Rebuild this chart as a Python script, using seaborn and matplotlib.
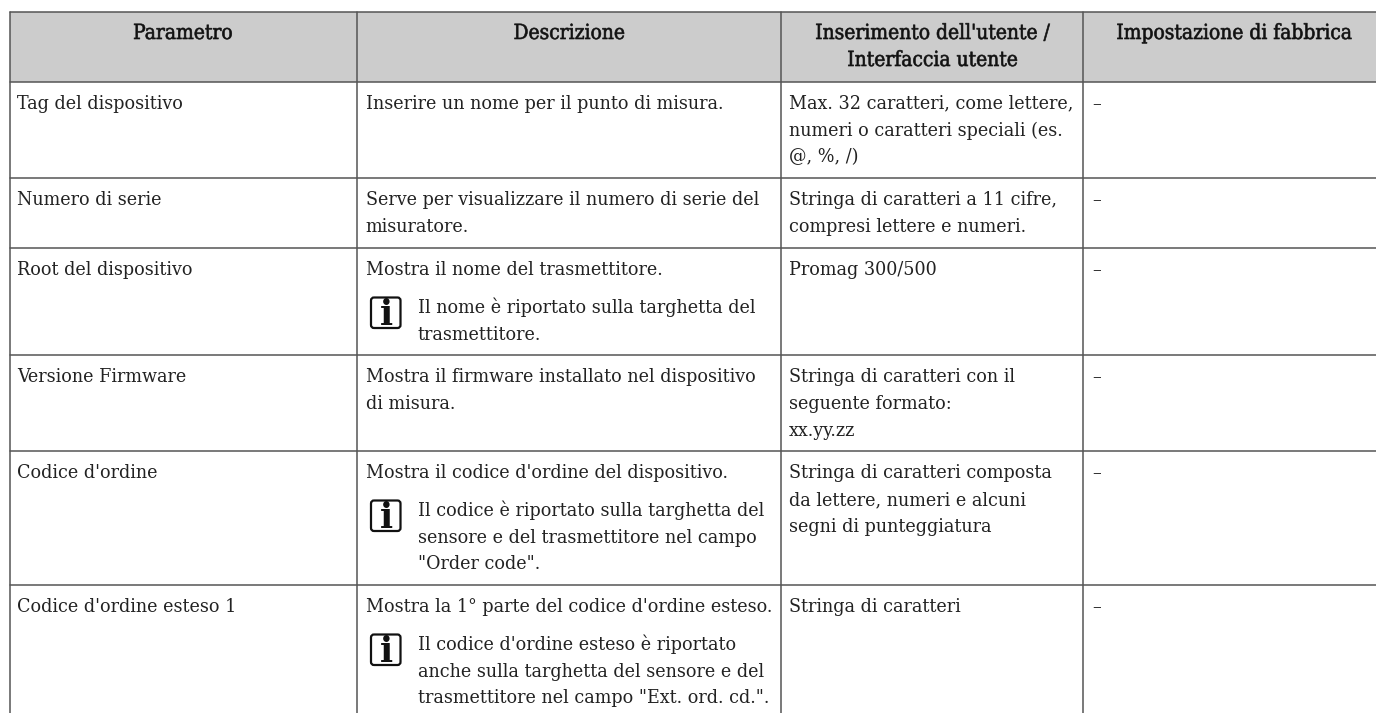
import pandas as pd
import matplotlib
matplotlib.use('Agg')
import matplotlib.pyplot as plt
import matplotlib.patheffects as pe
from matplotlib.patches import FancyBboxPatch
import seaborn as sns

# Table contents
headers = ["Parametro", "Descrizione", ["Inserimento dell'utente /", "Interfaccia utente"], "Impostazione di fabbrica"]
parametri = ["Tag del dispositivo", "Numero di serie", "Root del dispositivo",
             "Versione Firmware", "Codice d'ordine", "Codice d'ordine esteso 1"]
descrizioni = [
    ["Inserire un nome per il punto di misura."],
    ["Serve per visualizzare il numero di serie del", "misuratore."],
    ["Mostra il nome del trasmettitore."],
    ["Mostra il firmware installato nel dispositivo", "di misura."],
    ["Mostra il codice d'ordine del dispositivo."],
    ["Mostra la 1° parte del codice d'ordine esteso."],
]
note = [
    None,
    None,
    ["Il nome è riportato sulla targhetta del", "trasmettitore."],
    None,
    ["Il codice è riportato sulla targhetta del", "sensore e del trasmettitore nel campo", '"Order code".'],
    ["Il codice d'ordine esteso è riportato", "anche sulla targhetta del sensore e del",
     'trasmettitore nel campo "Ext. ord. cd.".'],
]
inserimento = [
    ["Max. 32 caratteri, come lettere,", "numeri o caratteri speciali (es.", "@, %, /)"],
    ["Stringa di caratteri a 11 cifre,", "compresi lettere e numeri."],
    ["Promag 300/500"],
    ["Stringa di caratteri con il", "seguente formato:", "xx.yy.zz"],
    ["Stringa di caratteri composta", "da lettere, numeri e alcuni", "segni di punteggiatura"],
    ["Stringa di caratteri"],
]
fabbrica = ["–", "–", "–", "–", "–", "–"]

# Layout in pixels
col_edges = [9.5, 357, 780.5, 1083]
row_edges = [11.5, 81.5, 178, 248, 355, 451, 585]
header_centers = [183, 569, 932, 1234]
line_h = 26.7
FONT = dict(family='DejaVu Serif', stretch='condensed')
TEXT_COLOR = '#222222'
RULE_COLOR = '#555555'

sns.set_theme(style='white')
fig, ax = plt.subplots(figsize=(13.76, 7.13), dpi=100)
ax.set_position([0, 0, 1, 1])

# Header background
ax.fill_between([col_edges[0], 1376], row_edges[0], row_edges[1], color='#cccccc', lw=0, zorder=0)

# Rules
rules = []
for i, y in enumerate(row_edges):
    rules += [dict(rule=f'h{i}', x=col_edges[0], y=y), dict(rule=f'h{i}', x=1376, y=y)]
for i, x in enumerate(col_edges):
    rules += [dict(rule=f'v{i}', x=x, y=row_edges[0]), dict(rule=f'v{i}', x=x, y=713)]
sns.lineplot(data=pd.DataFrame(rules), x='x', y='y', units='rule', estimator=None, sort=False,
             color=RULE_COLOR, lw=1.1, legend=False, ax=ax)
ax.set_xlim(0, 1376)
ax.set_ylim(713, 0)
ax.axis('off')


def put_lines(x, y, lines):
    for i, line in enumerate(lines):
        ax.text(x, y + i * line_h, line, va='baseline', fontsize=14.0, color=TEXT_COLOR, **FONT)


def info_icon(x, y):
    ax.add_patch(FancyBboxPatch((x + 1, y + 1), 29.5, 30.5, boxstyle='round,pad=0,rounding_size=3',
                                fc='white', ec='#111111', lw=1.6))
    ax.text(x + 16, y + 28.5, 'i', ha='center', va='baseline', fontsize=25, fontweight='bold',
            family='DejaVu Serif', color='#111111')


# Header row, regular face with a thin stroke for the semibold look
semibold = [pe.Stroke(linewidth=0.45, foreground='#111111')]
for cx, head in zip(header_centers, headers):
    lines = head if isinstance(head, list) else [head]
    for i, line in enumerate(lines):
        ax.text(cx, 39 + i * 27, line, ha='center', va='baseline', fontsize=15.0,
                color='#111111', path_effects=semibold, **FONT)

# Body rows
for r, top in enumerate(row_edges[1:]):
    base = top + 27.3
    put_lines(17, base, [parametri[r]])
    put_lines(365.5, base, descrizioni[r])
    put_lines(789, base, inserimento[r])
    put_lines(1092, base, [fabbrica[r]])
    if note[r]:
        info_icon(370, top + 48.5)
        put_lines(418, top + 65, note[r])

fig.savefig('out.png', dpi=100)
